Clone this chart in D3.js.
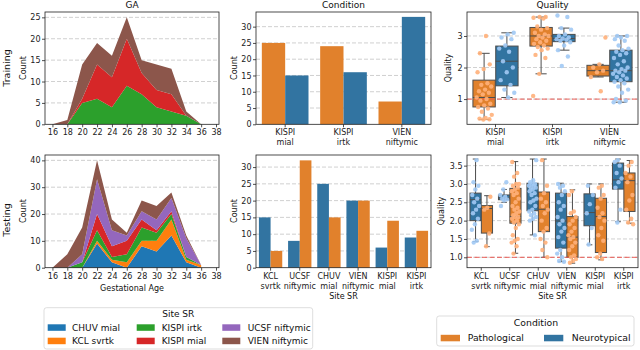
<!DOCTYPE html>
<html>
<head>
<meta charset="utf-8">
<script src="https://cdn.jsdelivr.net/npm/d3@7"></script>
<style>
body{margin:0;background:#fff}
text{font-family:"DejaVu Sans",sans-serif}
</style>
</head>
<body>
<div id="chartDiv"></div>
<script>
// ---------- data ----------
const gaBins = [16,18,20,22,24,26,28,30,32,34,36]
const siteNames = ["CHUV mial","KCL svrtk","KISPI irtk","KISPI mial","UCSF niftymic","VIEN niftymic"]
const siteColors = ["#1f77b4","#ff7f0e","#2ca02c","#d62728","#9467bd","#8c564b"]

// training GA counts (stack order: KISPI irtk, KISPI mial, VIEN niftymic)
const gaTrainIrtk = [0,0,5,6,4,9,7,4,3,2,0]
const gaTrainMial = [0,0,1,8,7,11,5,4,4,0,0]
const gaTrainVien = [0,1,8,5,5,5,3,6,6,1,0]

// testing GA counts
const gaTestChuv = [0,0,0,9,2,0,8,6,12,2,0]
const gaTestKcl  = [0,0,0,1,1,2,2,4,6,1,1]
const gaTestIrtk = [0,0,2,4,1,3,5,3,2,1,0]
const gaTestMial = [0,0,0,6,4,5,3,1,1,0,0]
const gaTestUcsf = [0,0,3,13,6,2,3,4,5,7,0]
const gaTestVien = [0,5,10,7,4,1,4,5,2,1,0]

const gaTicks = [16,18,20,22,24,26,28,30,32,34,36,38]

// condition counts
const trainSites = ["KISPI\nmial","KISPI\nirtk","VIEN\nniftymic"]
const condTrainPatho = [25,24,7]
const condTrainNeuro = [15,16,33]
const testSites = ["KCL\nsvrtk","UCSF\nniftymic","CHUV\nmial","VIEN\nniftymic","KISPI\nmial","KISPI\nirtk"]
const condTestNeuro = [15,8,25,20,6,9]
const condTestPatho = [5,32,15,20,14,11]

// quality boxes: [whisker low, q1, median, q3, whisker high]
const qTrainPathoBox = [[0.35,0.75,1.05,1.6,2.45],[1.8,2.68,3.0,3.27,3.6],[1.7,1.73,1.9,2.07,2.1]]
const qTrainNeuroBox = [[1.05,1.42,2.2,2.68,3.1],[2.55,2.82,2.92,3.05,3.25],[0.9,1.55,1.9,2.55,3.0]]
const qTestNeuroBox = [[1.43,2.0,2.57,2.75,3.68],[2.5,2.57,2.62,2.7,2.85],[1.61,2.27,2.91,3.02,3.68],[0.88,1.25,1.99,2.75,3.02],[1.34,1.86,2.22,2.73,3.0],[1.97,2.86,3.11,3.57,3.68]]
const qTestPathoBox = [[1.29,1.66,2.33,2.41,2.68],[1.11,1.93,2.11,2.88,3.61],[1.0,1.7,2.31,2.78,3.68],[0.84,1.0,1.55,2.11,2.84],[0.93,1.13,2.11,2.61,3.0],[1.93,2.25,3.09,3.3,3.64]]

// quality individual points
const qTrainPathoPts = [
  [3.0,2.45,2.1,1.95,1.85,1.5,1.45,1.4,1.3,1.25,1.2,1.15,1.05,1.0,0.95,0.85,0.8,0.75,0.7,0.6,0.5,0.4,0.38,0.36,0.35],
  [3.6,3.6,3.58,3.55,3.3,3.25,3.2,3.1,3.05,3.0,3.0,2.95,2.9,2.85,2.8,2.75,2.7,2.65,2.6,2.55,2.4,2.3,1.8,1.1],
  [2.95,2.1,2.0,1.9,1.85,1.7,1.25]
]
const qTrainNeuroPts = [
  [3.1,3.05,2.95,2.9,2.7,2.6,2.5,2.2,2.0,1.85,1.6,1.45,1.3,1.2,1.05],
  [3.65,3.6,3.25,3.2,3.05,3.0,2.95,2.92,2.9,2.88,2.85,2.8,2.7,2.55,2.35,2.05],
  [3.0,3.0,2.95,2.9,2.85,2.7,2.6,2.55,2.5,2.45,2.4,2.3,2.2,2.1,2.0,1.95,1.9,1.9,1.85,1.8,1.75,1.7,1.65,1.6,1.55,1.5,1.4,1.3,1.2,1.0,0.95,0.9,0.9]
]
const qTestNeuroPts = [
  [3.65,3.05,2.95,2.85,2.7,2.6,2.5,2.4,2.3,2.2,2.05,1.9,1.75,1.45,1.4],
  [3.05,2.85,2.7,2.65,2.6,2.58,2.55,2.4],
  [3.65,3.1,3.05,3.0,3.0,2.95,2.95,2.9,2.9,2.85,2.8,2.75,2.7,2.6,2.55,2.5,2.4,2.3,2.25,2.2,2.15,2.1,2.05,2.0,1.6],
  [3.0,2.95,2.9,2.8,2.7,2.5,2.4,2.3,2.1,2.0,1.9,1.8,1.7,1.55,1.4,1.2,1.1,1.0,0.9,0.88],
  [2.95,2.7,2.45,2.2,1.8,1.35],
  [3.65,3.6,3.5,3.3,3.15,3.05,2.9,2.3,1.95]
]
const qTestPathoPts = [
  [2.65,2.35,2.3,1.65,1.3],
  [3.6,3.3,3.2,3.0,3.0,2.95,2.9,2.85,2.8,2.75,2.7,2.6,2.5,2.4,2.35,2.3,2.25,2.2,2.15,2.1,2.1,2.05,2.0,1.95,1.9,1.8,1.6,1.5,1.45,1.4,1.3,1.1],
  [3.65,2.95,2.75,2.6,2.5,2.4,2.3,2.2,2.0,1.8,1.7,1.5,1.4,1.2,1.0],
  [2.8,2.7,2.25,2.2,2.1,2.0,1.9,1.8,1.7,1.6,1.55,1.5,1.4,1.3,1.2,1.05,1.0,0.95,0.9,0.85],
  [2.95,2.9,2.7,2.6,2.35,2.2,2.1,2.0,1.8,1.6,1.45,1.1,1.0,0.95],
  [3.6,3.5,3.3,3.2,3.05,2.7,2.55,2.3,2.05,1.95,1.9]
]

const condNames = ["Pathological","Neurotypical"]
const patho = {fill:"#e1812c", pt:"#ffb07a"}
const neuro = {fill:"#3274a1", pt:"#a1c9f4"}

// ---------- layout ----------
function translate(x,y){return `translate(${x}, ${y})`}

const svgWidth = 640, svgHeight = 350
const svg = d3.select("#chartDiv").append("svg").attr("width",svgWidth).attr("height",svgHeight)
  .style("font-family","DejaVu Sans")

const colX = {ga:[45,219], cond:[256,431], qual:[467,638]}
const rowY = [[12,124.3],[155,267.7]]

function makePanel(col,row){
  const [x0,x1] = colX[col], [y0,y1] = rowY[row]
  const g = svg.append("g").attr("transform",translate(x0,y0))
  return {g:g, w:x1-x0, h:y1-y0, x0:x0, y0:y0}
}
function styleAxis(a){
  a.attr("font-size",8).attr("font-family","DejaVu Sans")
  a.select(".domain").remove()
  a.selectAll("text").attr("fill","#222")
  a.selectAll("line").attr("stroke","#222").attr("stroke-width",0.8)
}
function drawGrid(p,y,ticks){
  p.g.append("g").selectAll("line").data(ticks).enter().append("line")
    .attr("x1",0).attr("x2",p.w).attr("y1",d=>y(d)).attr("y2",d=>y(d))
    .attr("stroke","#c4c4c4").attr("stroke-width",0.8).attr("stroke-dasharray","4,2")
}
function drawFrame(p){
  p.g.append("rect").attr("width",p.w).attr("height",p.h)
    .attr("fill","none").attr("stroke","#222").attr("stroke-width",0.8)
}
function drawYAxis(p,y,ticks,fmt){
  const a = p.g.append("g").call(d3.axisLeft(y).tickValues(ticks).tickSize(3).tickPadding(1.5).tickFormat(fmt))
  styleAxis(a)
}
function drawBandAxis(p,x,labels){
  const a = p.g.append("g").attr("transform",translate(0,p.h))
    .call(d3.axisBottom(x).tickSize(3).tickPadding(2.5).tickSizeOuter(0))
  styleAxis(a)
  a.selectAll(".tick text").each(function(d){
    const t = d3.select(this)
    t.text(null).attr("dy",null)
    labels[d].split("\n").forEach((l,i)=>{
      t.append("tspan").attr("x",0).attr("dy", i==0 ? "0.71em" : "1.25em").text(l)
    })
  })
}
function label(x,y,txt,size,rot){
  const t = svg.append("text").attr("x",x).attr("y",y).attr("font-size",size)
    .attr("text-anchor","middle").attr("fill","#111").text(txt)
  if(rot) t.attr("transform",`rotate(-90, ${x}, ${y})`)
  return t
}

// ---------- GA stacked areas ----------
function drawGA(row, series, colors, yMax, yTicks){
  const p = makePanel("ga",row)
  const x = d3.scaleLinear().domain([15,38.4]).range([0,p.w])
  const y = d3.scaleLinear().domain([0,yMax]).range([p.h,0])
  const table = gaBins.map(function(b,i){
    let r = {bin:b}
    series.forEach((s,k)=>{r["s"+k] = s[i]})
    return r
  })
  const layers = d3.stack().keys(series.map((s,k)=>"s"+k))(table)
  const area = d3.area().x(d=>x(d.data.bin)).y0(d=>y(d[0])).y1(d=>y(d[1]))
  drawGrid(p,y,yTicks.filter(v=>v>0))
  p.g.selectAll("path.layer").data(layers).enter().append("path")
    .attr("class","layer").attr("d",area).attr("fill",(d,i)=>colors[i])
  drawFrame(p)
  drawYAxis(p,y,yTicks,d3.format("d"))
  const a = p.g.append("g").attr("transform",translate(0,p.h))
    .call(d3.axisBottom(x).tickValues(gaTicks).tickSize(3).tickPadding(2.5).tickFormat(d3.format("d")))
  styleAxis(a)
}

// ---------- condition bars ----------
function drawCond(row, labels, hues, yMax, yTicks){
  const p = makePanel("cond",row)
  const x = d3.scaleBand().domain(d3.range(labels.length)).range([0,p.w])
  const y = d3.scaleLinear().domain([0,yMax]).range([p.h,0])
  const bw = x.bandwidth()*0.4
  drawGrid(p,y,yTicks.filter(v=>v>0))
  hues.forEach(function(hu,k){
    p.g.append("g").selectAll("rect").data(hu.vals).enter().append("rect")
      .attr("x",(d,i)=>x(i)+x.bandwidth()*0.1+k*bw)
      .attr("y",d=>y(d))
      .attr("width",bw)
      .attr("height",d=>p.h-y(d))
      .attr("fill",hu.fill)
  })
  drawFrame(p)
  drawYAxis(p,y,yTicks,d3.format("d"))
  drawBandAxis(p,x,labels)
}

// ---------- quality boxes + strip ----------
function drawQuality(row, labels, hues, yDomain, yTicks, fmt){
  const p = makePanel("qual",row)
  const x = d3.scaleBand().domain(d3.range(labels.length)).range([0,p.w])
  const y = d3.scaleLinear().domain(yDomain).range([p.h,0])
  const bw = x.bandwidth()*0.4
  drawGrid(p,y,yTicks)
  const lineCol = "#4d4d4d"
  hues.forEach(function(hu,k){
    const g = p.g.append("g")
    hu.box.forEach(function(b,i){
      const cx = x(i)+x.bandwidth()*0.1+k*bw+bw/2
      const w = bw*0.98
      g.append("line").attr("x1",cx).attr("x2",cx).attr("y1",y(b[0])).attr("y2",y(b[1]))
        .attr("stroke",lineCol).attr("stroke-width",1)
      g.append("line").attr("x1",cx).attr("x2",cx).attr("y1",y(b[3])).attr("y2",y(b[4]))
        .attr("stroke",lineCol).attr("stroke-width",1)
      ;[b[0],b[4]].forEach(v=>{
        g.append("line").attr("x1",cx-w/4).attr("x2",cx+w/4).attr("y1",y(v)).attr("y2",y(v))
          .attr("stroke",lineCol).attr("stroke-width",1)
      })
      g.append("rect").attr("x",cx-w/2).attr("width",w)
        .attr("y",y(b[3])).attr("height",y(b[1])-y(b[3]))
        .attr("fill",hu.fill).attr("stroke",lineCol).attr("stroke-width",1)
      g.append("line").attr("x1",cx-w/2).attr("x2",cx+w/2).attr("y1",y(b[2])).attr("y2",y(b[2]))
        .attr("stroke",lineCol).attr("stroke-width",1)
    })
  })
  // reference line at quality 1
  p.g.append("line").attr("x1",0).attr("x2",p.w).attr("y1",y(1)).attr("y2",y(1))
    .attr("stroke","#e8504a").attr("stroke-opacity",0.75).attr("stroke-width",1.2).attr("stroke-dasharray","5,2.5")
  hues.forEach(function(hu,k){
    hu.pts.forEach(function(vals,i){
      const cx = x(i)+x.bandwidth()*0.1+k*bw+bw/2
      p.g.append("g").selectAll("circle").data(vals).enter().append("circle")
        .attr("cx",(d,j)=>cx+((((j+1)*0.618034+k*0.31+i*0.17)%1)-0.5)*bw*0.7)
        .attr("cy",d=>y(d))
        .attr("r",2.2)
        .attr("fill",hu.pt).attr("fill-opacity",0.9)
    })
  })
  drawFrame(p)
  drawYAxis(p,y,yTicks,fmt)
  drawBandAxis(p,x,labels)
}

// ---------- draw panels ----------
drawGA(0,[gaTrainIrtk,gaTrainMial,gaTrainVien],[siteColors[2],siteColors[3],siteColors[5]],26.25,[0,5,10,15,20,25])
drawGA(1,[gaTestChuv,gaTestKcl,gaTestIrtk,gaTestMial,gaTestUcsf,gaTestVien],siteColors,42,[0,10,20,30,40])

drawCond(0,trainSites,[{vals:condTrainPatho,fill:patho.fill},{vals:condTrainNeuro,fill:neuro.fill}],34.5,[0,5,10,15,20,25,30])
drawCond(1,testSites,[{vals:condTestNeuro,fill:neuro.fill},{vals:condTestPatho,fill:patho.fill}],33.6,[0,5,10,15,20,25,30])

drawQuality(0,trainSites,
  [{box:qTrainPathoBox,pts:qTrainPathoPts,fill:patho.fill,pt:patho.pt},
   {box:qTrainNeuroBox,pts:qTrainNeuroPts,fill:neuro.fill,pt:neuro.pt}],
  [0.2,3.76],[1,2,3],d3.format("d"))
drawQuality(1,testSites,
  [{box:qTestNeuroBox,pts:qTestNeuroPts,fill:neuro.fill,pt:neuro.pt},
   {box:qTestPathoBox,pts:qTestPathoPts,fill:patho.fill,pt:patho.pt}],
  [0.716,3.79],[1,1.5,2,2.5,3,3.5],d3.format(".1f"))

// titles and axis labels
label(132,8,"GA",9)
label(343.5,8,"Condition",9)
label(552.5,8,"Quality",9)
label(9.5,68,"Training",9.5,true)
label(9.5,220,"Testing",9.5,true)
label(26,68,"Count",8,true)
label(26,211,"Count",8,true)
label(236.5,68,"Count",8,true)
label(236.5,211,"Count",8,true)
label(451,68,"Quality",8,true)
label(444,211,"Quality",8,true)
label(132,290.5,"Gestational Age",8)
label(343.5,298.5,"Site SR",8)
label(552.5,298.5,"Site SR",8)

// ---------- legends ----------
function legendBox(x,y,w,h){
  const g = svg.append("g").attr("transform",translate(x,y))
  g.append("rect").attr("width",w).attr("height",h).attr("rx",2.5)
    .attr("fill","#fff").attr("stroke","#d4d4d4").attr("stroke-width",0.8)
  return g
}
const siteLeg = legendBox(44,307.7,268.7,41.3)
siteLeg.append("text").attr("x",134.3).attr("y",9.6).attr("font-size",9)
  .attr("text-anchor","middle").attr("fill","#111").text("Site SR")
const legCols = [[3.7,28],[92.7,117.7],[178.3,203.7]]
siteNames.forEach(function(n,i){
  const c = legCols[Math.floor(i/2)], r = i%2
  siteLeg.append("rect").attr("x",c[0]).attr("y",16.6+r*13.4).attr("width",18).attr("height",6.5)
    .attr("fill",siteColors[i])
  siteLeg.append("text").attr("x",c[1]).attr("y",23.3+r*13.1).attr("font-size",9)
    .attr("fill","#111").text(n)
})

const condLeg = legendBox(436.7,316,197.3,30)
condLeg.append("text").attr("x",99.3).attr("y",10.2).attr("font-size",9.3)
  .attr("text-anchor","middle").attr("fill","#111").text("Condition")
;[patho.fill,neuro.fill].forEach(function(col,i){
  condLeg.append("rect").attr("x",[4,107.3][i]).attr("y",18.8).attr("width",19.3).attr("height",6.5).attr("fill",col)
  condLeg.append("text").attr("x",[31,135][i]).attr("y",24.6).attr("font-size",9.3)
    .attr("fill","#111").text(condNames[i])
})
</script>
</body>
</html>
